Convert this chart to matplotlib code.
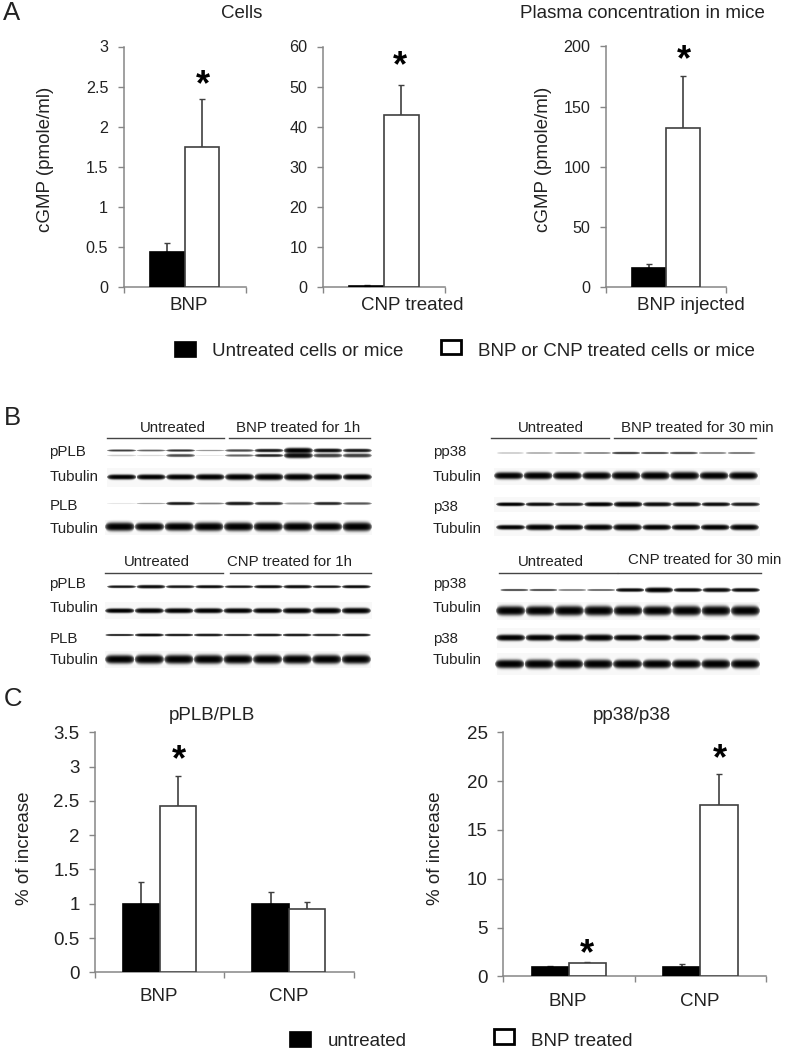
import matplotlib
matplotlib.use('Agg')
import matplotlib.pyplot as plt
from matplotlib.patches import Rectangle
import numpy as np

plt.rcParams['font.family'] = ['Liberation Sans', 'DejaVu Sans']
W, H = 787, 1051
TEXT = '#222222'
AXIS = '#868686'
EDGE = '#404040'

# panel A
a1_vals = [0.44, 1.75]
a1_errs = [0.115, 0.59]
a2_vals = [0.35, 42.9]
a2_errs = [0.2, 7.5]
a3_vals = [15.5, 132]
a3_errs = [4.0, 43.5]
a1_ticks = [0, 0.5, 1, 1.5, 2, 2.5, 3]
a2_ticks = [0, 10, 20, 30, 40, 50, 60]
a3_ticks = [0, 50, 100, 150, 200]

# panel C
c_cats = ['BNP', 'CNP']
c1_untreated = [0.99, 0.99]
c1_untreated_err = [0.33, 0.18]
c1_treated = [2.43, 0.93]
c1_treated_err = [0.44, 0.09]
c1_ticks = [0, 0.5, 1, 1.5, 2, 2.5, 3, 3.5]
c2_untreated = [0.95, 0.95]
c2_untreated_err = [0.13, 0.35]
c2_treated = [1.4, 17.6]
c2_treated_err = [0.05, 3.1]
c2_ticks = [0, 5, 10, 15, 20, 25]

# panel B, band strength per lane (0-1) and half thickness per lane (px)
ppLB1_top = [0.75, 0.6, 0.8, 0.4, 0.7, 0.9, 1.0, 0.95, 0.9]
ppLB1_top_t = [1.1, 1.0, 1.2, 0.8, 1.3, 1.7, 2.8, 2.0, 1.8]
ppLB1_low = [0.2, 0.15, 0.7, 0.1, 0.6, 0.85, 0.95, 0.75, 0.75]
ppLB1_low_t = [0.9, 0.8, 1.5, 0.6, 1.2, 1.5, 2.8, 2.0, 2.0]
tub1 = [1, 1, 1, 1, 1, 1, 1, 1, 1]
tub1_t = [2.6, 2.7, 2.8, 3.0, 3.2, 3.4, 3.4, 3.2, 3.0]
plb1 = [0.1, 0.35, 0.9, 0.5, 0.9, 0.85, 0.4, 0.85, 0.65]
plb1_t = [0.7, 0.8, 1.6, 1.0, 1.8, 1.6, 1.1, 1.6, 1.3]
tub2 = [1, 1, 1, 1, 1, 1, 1, 1, 1]
tub2_t = [4.4, 4.0, 4.2, 4.4, 4.4, 4.4, 4.4, 4.2, 4.6]
ppLB2 = [0.9, 0.95, 0.9, 0.95, 0.9, 0.95, 0.95, 0.9, 0.95]
ppLB2_t = [1.4, 1.8, 1.5, 1.6, 1.4, 1.6, 1.7, 1.4, 1.6]
tub3 = [1, 1, 1, 1, 1, 1, 1, 1, 1]
tub3_t = [2.4, 2.6, 2.6, 2.6, 2.6, 2.6, 2.8, 3.0, 3.0]
plb2 = [0.85, 0.95, 0.9, 0.9, 0.85, 0.9, 0.9, 0.85, 0.9]
plb2_t = [1.1, 1.5, 1.3, 1.4, 1.2, 1.4, 1.4, 1.3, 1.4]
tub4 = [1, 1, 1, 1, 1, 1, 1, 1, 1]
tub4_t = [4.4, 4.6, 4.6, 4.6, 4.6, 4.6, 4.6, 4.6, 4.6]

pp38_1 = [0.25, 0.35, 0.45, 0.5, 0.75, 0.7, 0.7, 0.5, 0.55]
pp38_1_t = [0.7, 0.8, 0.8, 0.9, 1.2, 1.1, 1.2, 1.0, 1.0]
tub5 = [1, 1, 1, 1, 1, 1, 1, 1, 1]
tub5_t = [3.6, 3.8, 3.8, 3.8, 4.0, 4.0, 4.0, 3.8, 3.8]
p38_1 = [1, 0.95, 0.9, 1, 1, 0.95, 0.95, 0.95, 0.9]
p38_1_t = [1.9, 1.9, 1.8, 2.2, 2.6, 2.2, 2.2, 2.0, 1.9]
tub6 = [1, 1, 1, 1, 1, 1, 1, 1, 1]
tub6_t = [2.4, 3.0, 2.8, 3.0, 3.2, 2.8, 2.8, 2.8, 3.0]
pp38_2 = [0.7, 0.7, 0.5, 0.6, 0.95, 1.0, 0.95, 0.95, 0.95]
pp38_2_t = [1.1, 1.1, 1.0, 1.0, 1.9, 2.6, 2.0, 2.2, 2.0]
tub7 = [1, 1, 1, 1, 1, 1, 1, 1, 1]
tub7_t = [4.8, 4.8, 5.0, 5.0, 4.8, 4.8, 5.0, 5.0, 5.0]
p38_2 = [1, 1, 1, 1, 1, 1, 1, 1, 1]
p38_2_t = [3.2, 3.2, 3.4, 3.4, 3.0, 3.0, 3.0, 3.0, 3.4]
tub8 = [1, 1, 1, 1, 1, 1, 1, 1, 1]
tub8_t = [4.4, 4.6, 4.6, 4.6, 4.4, 4.4, 4.4, 4.6, 4.6]

lane_labels_left = ['pPLB', 'Tubulin', 'PLB', 'Tubulin', 'pPLB', 'Tubulin', 'PLB', 'Tubulin']
lane_labels_right = ['pp38', 'Tubulin', 'p38', 'Tubulin', 'pp38', 'Tubulin', 'p38', 'Tubulin']


def px_axes(fig, left, right, top, bottom):
    return fig.add_axes([left / W, 1 - bottom / H, (right - left) / W, (bottom - top) / H])


def bars(ax, groups, ymax, ticks, tick_size):
    # groups is a list of (values, errors, colour), one per series
    n = len(groups[0][0])
    width = 0.283
    for j, (vals, errs, colour) in enumerate(groups):
        x = np.arange(n) + 0.5 + (j - 0.5) * width
        ax.bar(x, vals, width, color=colour, edgecolor=EDGE if colour == 'white' else 'black',
               linewidth=1.2, zorder=3)
        ax.errorbar(x, vals, yerr=[[0] * n, errs], fmt='none', ecolor=EDGE, elinewidth=1.2,
                    capsize=2.2, capthick=1.0, zorder=2)
    ax.set_xlim(0, n)
    ax.set_ylim(0, ymax)
    ax.set_yticks(ticks)
    ax.set_yticklabels([str(t) for t in ticks])
    ax.set_xticks(np.arange(n + 1))
    ax.set_xticklabels([])
    ax.tick_params(axis='y', direction='out', length=4, width=1, color=AXIS, pad=7,
                   labelsize=tick_size, labelcolor=TEXT)
    ax.tick_params(axis='x', direction='out', length=4, width=1, color=AXIS)
    for side in ['top', 'right']:
        ax.spines[side].set_visible(False)
    for side in ['left', 'bottom']:
        ax.spines[side].set_color(AXIS)
        ax.spines[side].set_linewidth(1.1)
    ax.patch.set_alpha(0)


def band(canvas, yc, x0, x1, strength, thick):
    lane = (x1 - x0) / len(strength)
    xs = np.arange(W) + 0.5
    ys = np.arange(H) + 0.5
    for i, (s, t) in enumerate(zip(strength, thick)):
        xc = x0 + (i + 0.5) * lane
        u = (xs - xc) / (lane * 0.5)
        amp = np.clip(1 - u ** 6, 0, 1)
        for k in np.nonzero(amp)[0]:
            half = max(t * amp[k] ** 0.5, 0.35)
            col = np.exp(-np.abs((ys - yc) / half) ** 3) * s * amp[k] ** 0.5
            canvas[:, k] *= 1 - col


def strip(canvas, x0, x1, y0, y1, level=0.97):
    canvas[int(y0):int(y1), int(x0):int(x1)] *= level


fig = plt.figure(figsize=(W / 100, H / 100), dpi=100)

# full-figure pixel layer for the blots and every free text
top = fig.add_axes([0, 0, 1, 1])
canvas = np.ones((H, W))
strip(canvas, 107, 372, 468, 487)
strip(canvas, 105, 372, 520, 535)
strip(canvas, 105, 372, 602, 619)
strip(canvas, 105, 371, 651, 668)
strip(canvas, 494, 760, 468, 485)
strip(canvas, 494, 760, 497, 512)
strip(canvas, 494, 760, 520, 536)
strip(canvas, 497, 760, 602, 620)
strip(canvas, 497, 760, 628, 648)
strip(canvas, 497, 760, 653, 675)
band(canvas, 450.5, 107, 372, ppLB1_top, ppLB1_top_t)
band(canvas, 455.5, 107, 372, ppLB1_low, ppLB1_low_t)
band(canvas, 477, 107, 372, tub1, tub1_t)
band(canvas, 503.5, 107, 372, plb1, plb1_t)
band(canvas, 526.7, 105, 372, tub2, tub2_t)
band(canvas, 586.7, 107, 371, ppLB2, ppLB2_t)
band(canvas, 610.7, 105, 371, tub3, tub3_t)
band(canvas, 635, 105, 371, plb2, plb2_t)
band(canvas, 659.3, 105, 371, tub4, tub4_t)
band(canvas, 453, 496, 756, pp38_1, pp38_1_t)
band(canvas, 475.7, 494, 758, tub5, tub5_t)
band(canvas, 504.3, 496, 760, p38_1, p38_1_t)
band(canvas, 527.3, 496, 759, tub6, tub6_t)
band(canvas, 590, 500, 760, pp38_2, pp38_2_t)
band(canvas, 610.7, 496, 760, tub7, tub7_t)
band(canvas, 637.7, 496, 760, p38_2, p38_2_t)
band(canvas, 664, 495, 760, tub8, tub8_t)
top.imshow(canvas, cmap='gray', vmin=0, vmax=1, extent=(0, W, H, 0), aspect='auto',
           interpolation='bilinear')
top.set_xlim(0, W)
top.set_ylim(H, 0)
top.axis('off')

bars(px_axes(fig, 123.5, 245.5, 46.5, 287), [([a1_vals[0]], [a1_errs[0]], 'black'), ([a1_vals[1]], [a1_errs[1]], 'white')],
     3, a1_ticks, 11.6)
bars(px_axes(fig, 322.7, 445.3, 46.5, 287), [([a2_vals[0]], [a2_errs[0]], 'black'), ([a2_vals[1]], [a2_errs[1]], 'white')],
     60, a2_ticks, 11.6)
bars(px_axes(fig, 606, 725.7, 46.5, 287), [([a3_vals[0]], [a3_errs[0]], 'black'), ([a3_vals[1]], [a3_errs[1]], 'white')],
     200, a3_ticks, 11.6)
bars(px_axes(fig, 95, 353.5, 732.3, 972.3), [(c1_untreated, c1_untreated_err, 'black'), (c1_treated, c1_treated_err, 'white')],
     3.5, c1_ticks, 13.5)
bars(px_axes(fig, 503, 766.3, 732.3, 976.3), [(c2_untreated, c2_untreated_err, 'black'), (c2_treated, c2_treated_err, 'white')],
     25, c2_ticks, 13.5)


def label(x, y, s, size=13.5, ha='center', rotation=0):
    # text box centre sits a little above the letters, small sizes need less nudge
    nudge = 2 if size > 12 else 1
    dx, dy = (nudge, 0) if rotation else (0, nudge)
    top.text(x + dx, y + dy, s, fontsize=size, ha=ha, va='center', color=TEXT, rotation=rotation,
             zorder=5)


label(3, 11, 'A', 18.5, ha='left')
label(4, 416, 'B', 18.5, ha='left')
label(4, 697, 'C', 18.5, ha='left')

label(241.6, 12, 'Cells')
label(642.7, 12, 'Plasma concentration in mice')
label(44, 159.7, 'cGMP (pmole/ml)', rotation=90)
label(541.7, 159.7, 'cGMP (pmole/ml)', rotation=90)
label(188.3, 304, 'BNP')
label(412, 304, 'CNP treated')
label(691, 304, 'BNP injected')
label(212, 350, 'Untreated cells or mice', ha='left')
label(478, 350, 'BNP or CNP treated cells or mice', ha='left')

label(212.3, 714, 'pPLB/PLB')
label(632, 714, 'pp38/p38')
label(22.7, 848, '% of increase', rotation=90)
label(433.7, 848, '% of increase', rotation=90)
for x, s in zip([159, 288.3], c_cats):
    label(x, 994.3, s)
for x, s in zip([568, 699.7], c_cats):
    label(x, 999.3, s)
label(327.3, 1040, 'untreated', ha='left')
label(531.3, 1039.3, 'BNP treated', ha='left')

# asterisks, the glyph sits high in its line box so nudge down
for x, y in [(202.7, 79), (400, 59.3), (684, 54), (179.3, 754), (587, 947.7), (719.7, 752.7)]:
    top.text(x, y + 7, '*', fontsize=26, ha='center', va='center', color='black', zorder=5,
             fontweight='bold')

# legend swatches
for x0, x1, y0, y1 in [(174, 196, 340.7, 357.3), (289.3, 311.3, 1030.7, 1047.3)]:
    top.add_patch(Rectangle((x0, y0), x1 - x0, y1 - y0, facecolor='black', edgecolor='black', linewidth=0.5))
for x0, x1, y0, y1 in [(441, 461, 339.7, 354.3), (493.7, 514.3, 1029.3, 1044)]:
    top.add_patch(Rectangle((x0, y0), x1 - x0, y1 - y0, facecolor='white', edgecolor='black', linewidth=2))

# blot headers
for x0, x1, y in [(106.7, 224.3, 438.3), (229, 370, 438.3), (105, 222.7, 572.7), (229.7, 371, 572.7),
                  (491.3, 609.3, 437.7), (614.3, 756, 437.7), (499, 616.7, 573), (618.3, 760.7, 573)]:
    top.plot([x0, x1], [y, y], color='#444444', lw=1.0)
head = 10.8
label(172.7, 426.7, 'Untreated', head)
label(297.7, 426.7, 'BNP treated for 1h', head)
label(157.3, 560.7, 'Untreated', head)
label(289.3, 560.7, 'CNP treated for 1h', head)
label(551, 426.7, 'Untreated', head)
label(697.7, 426.7, 'BNP treated for 30 min', head)
label(551, 560.7, 'Untreated', head)
label(704.3, 559.3, 'CNP treated for 30 min', head)
for y, a, b in zip([451, 476, 505.5, 527.7, 583, 607.3, 638, 659.3], lane_labels_left, lane_labels_right):
    label(49.5, y, a, head, ha='left')
    label(432.7, y, b, head, ha='left')

top.set_xlim(0, W)
top.set_ylim(H, 0)
fig.savefig('out.png', dpi=100)
